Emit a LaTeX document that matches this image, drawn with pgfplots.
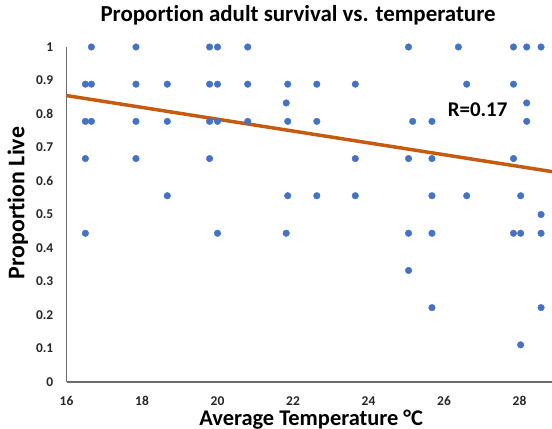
\documentclass[border=0pt]{standalone}
\usepackage{pgfplots}
\pgfplotsset{compat=1.18}
\usepackage{fontspec}
\setmainfont{Carlito}[Ligatures=NoCommon]
\definecolor{dotblue}{HTML}{4472C4}
\definecolor{trendorange}{HTML}{C55A11}
\begin{document}
\begin{tikzpicture}
\useasboundingbox (0,0) rectangle (552bp,429bp);
\begin{axis}[
  at={(66.5bp,47bp)}, anchor=south west,
  scale only axis,
  width=485.5bp, height=335bp,
  xmin=16, xmax=28.86, ymin=0, ymax=1,
  clip=false,
  axis lines=left,
  axis line style={-, draw=gray!85!black, line width=1.2bp},
  major tick length=0pt,
  xtick={16,18,20,22,24,26,28},
  ytick={0,0.1,0.2,0.3,0.4,0.5,0.6,0.7,0.8,0.9,1},
  yticklabels={0,0.1,0.2,0.3,0.4,0.5,0.6,0.7,0.8,0.9,1},
  /pgf/number format/assume math mode=true,
  tick label style={font=\bfseries\fontsize{13.5}{15}\selectfont, inner sep=0pt, text=black!85},
  yticklabel style={xshift=-13bp},
  xticklabel style={yshift=-14.5bp},
  title={Proportion adult survival vs. temperature},
  title style={font=\bfseries\fontsize{23}{26}\selectfont, anchor=base, at={(rel axis cs:0.477,1.0597)}, inner sep=0pt},
  xlabel={Average Temperature °C},
  xlabel style={font=\bfseries\fontsize{22.5}{26}\selectfont, anchor=base, at={(rel axis cs:0.504,-0.13)}, inner sep=0pt},
  ylabel={Proportion Live},
  ylabel style={font=\bfseries\fontsize{24}{26}\selectfont, anchor=center, at={(rel axis cs:-0.1,0.534)}, inner sep=0pt},
]
\addplot[only marks, mark=*, mark size=3.3bp, mark options={draw=dotblue, fill=dotblue}] coordinates {
(16.50,0.889) (16.50,0.778) (16.50,0.667) (16.50,0.444)
(16.66,1.0) (16.66,0.889) (16.66,0.778)
(17.84,1.0) (17.84,0.889) (17.84,0.778) (17.84,0.667)
(18.67,0.889) (18.67,0.778) (18.67,0.556)
(19.79,1.0) (19.79,0.889) (19.79,0.778) (19.79,0.667)
(20.00,1.0) (20.00,0.889) (20.00,0.778) (20.00,0.444)
(20.80,1.0) (20.80,0.889) (20.80,0.778)
(21.82,0.833) (21.82,0.444)
(21.86,0.889) (21.86,0.778) (21.86,0.556)
(22.63,0.889) (22.63,0.778) (22.63,0.556)
(23.65,0.889) (23.65,0.667) (23.65,0.556)
(25.06,1.0) (25.06,0.667) (25.06,0.444) (25.06,0.333)
(25.17,0.778)
(25.68,0.778) (25.68,0.667) (25.68,0.556) (25.68,0.444) (25.68,0.222)
(26.38,1.0)
(26.60,0.889) (26.60,0.556)
(27.84,1.0) (27.84,0.889) (27.84,0.667) (27.84,0.444)
(28.03,0.556) (28.03,0.444) (28.03,0.111)
(28.19,1.0) (28.19,0.833) (28.19,0.778)
(28.57,1.0) (28.57,0.5) (28.57,0.444) (28.57,0.222)
};
\addplot[trendorange, line width=3.5bp, no marks] coordinates {(16,0.855) (28.86,0.628)};
\node[font=\bfseries\fontsize{21}{24}\selectfont, anchor=center, inner sep=0pt] at (axis cs:26.89,0.812) {R=0.17};
\end{axis}
\end{tikzpicture}
\end{document}
